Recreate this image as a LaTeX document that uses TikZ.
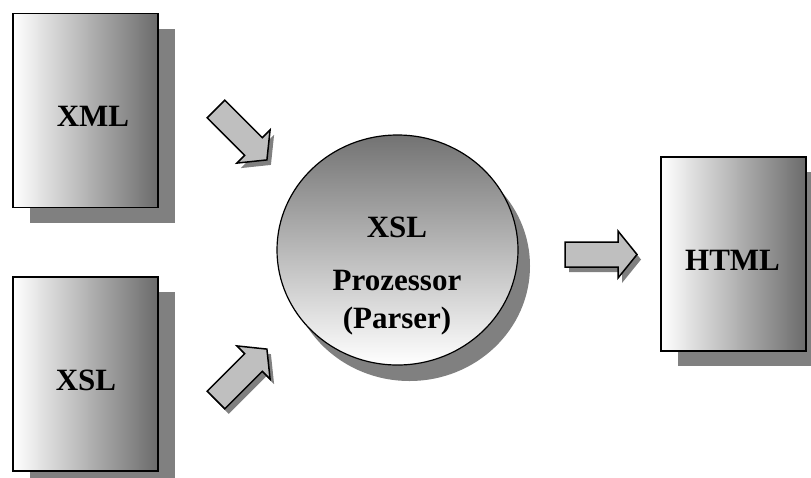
\documentclass[tikz,border=0pt]{standalone}
\usepackage{fontspec}
\setmainfont{Liberation Serif}
\usetikzlibrary{shapes.geometric,shadows}
\tikzset{
  docbox/.style={draw=black,line width=1.6pt,minimum width=145pt,minimum height=194pt,inner sep=0pt,
    left color=white,right color=black!58,
    drop shadow={shadow xshift=17pt,shadow yshift=-15pt,fill=black!50,opacity=1}},
  proc/.style={ellipse,draw=black,line width=1.2pt,minimum width=241pt,minimum height=230pt,inner sep=0pt,
    top color=black!55,bottom color=white,
    drop shadow={shadow xshift=12pt,shadow yshift=-16pt,fill=black!50,opacity=1}},
  lbl/.style={font=\fontsize{31}{36}\selectfont\bfseries,inner sep=0pt},
  arrfill/.style={draw=black,line width=1.5pt,fill=black!25,line join=miter},
  arrshadow/.style={fill=black!50}
}
\newcommand\blockarr[3]{%
  \fill[arrshadow,shift={(#1+4,#2+5)},rotate=#3] (0,-12.5) -- (53,-12.5) -- (53,-23.5) -- (72,0) -- (53,23.5) -- (53,12.5) -- (0,12.5) -- cycle;
  \path[arrfill,shift={(#1,#2)},rotate=#3] (0,-12.5) -- (53,-12.5) -- (53,-23.5) -- (72,0) -- (53,23.5) -- (53,12.5) -- (0,12.5) -- cycle;}
\begin{document}
\begin{tikzpicture}[x=1pt,y=-1pt]
\clip (0,0) rectangle (811,477);
\fill[white] (0,0) rectangle (811,477);
% documents
\node[docbox] (xml) at (85.5,110.5) {};
\node[docbox] (xsl) at (85.5,374) {};
\node[docbox] (html) at (733.5,254) {};
\node[lbl] (xmltext) at (93,116) {XML};
\node[lbl] (xsltext) at (86,380) {XSL};
\node[lbl] (htmltext) at (732.5,260) {HTML};
% processor
\node[proc] (proc) at (397.5,250) {};
\node[lbl,anchor=base] (procA) at (397,237) {XSL};
\node[lbl,anchor=base] (procB) at (397,290) {Prozessor};
\node[lbl,anchor=base] (procC) at (397,328) {(Parser)};
% block arrows
\blockarr{216}{109}{-45}
\blockarr{216}{400}{45}
\blockarr{565}{254.5}{0}
\end{tikzpicture}
\end{document}
